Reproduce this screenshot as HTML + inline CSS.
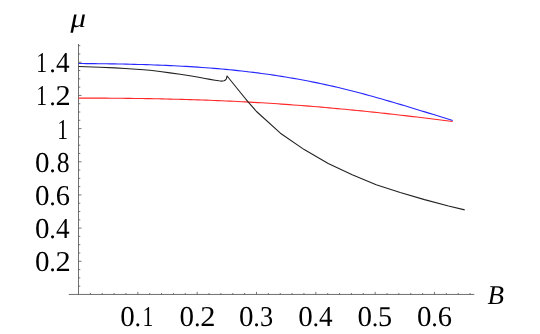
<!DOCTYPE html>
<html><head><meta charset="utf-8"><style>
html,body{margin:0;padding:0;background:#fff;}
svg{display:block;will-change:transform}
text{font-family:"Liberation Serif",serif;font-size:27px;fill:#000;text-rendering:geometricPrecision}
</style></head><body>
<svg width="540" height="334" viewBox="0 0 540 334">
<rect width="540" height="334" fill="#fff"/>
<path d="M78.5 43.9V294.45M68.8 294.45H474.3" stroke="#555" stroke-width="0.85" fill="none"/>
<path d="M78.5 286.16h1.8M78.5 277.87h1.8M78.5 269.57h1.8M78.5 261.28h3.0M78.5 252.99h1.8M78.5 244.69h1.8M78.5 236.40h1.8M78.5 228.11h3.0M78.5 219.82h1.8M78.5 211.52h1.8M78.5 203.23h1.8M78.5 194.94h3.0M78.5 186.65h1.8M78.5 178.35h1.8M78.5 170.06h1.8M78.5 161.77h3.0M78.5 153.48h1.8M78.5 145.18h1.8M78.5 136.89h1.8M78.5 128.60h3.0M78.5 120.31h1.8M78.5 112.01h1.8M78.5 103.72h1.8M78.5 95.43h3.0M78.5 87.14h1.8M78.5 78.84h1.8M78.5 70.55h1.8M78.5 62.26h3.0M78.5 53.97h1.8M78.5 45.67h1.8M90.37 294.45v-1.5M102.23 294.45v-1.5M114.10 294.45v-1.5M125.96 294.45v-1.5M137.83 294.45v-2.6M149.70 294.45v-1.5M161.56 294.45v-1.5M173.43 294.45v-1.5M185.29 294.45v-1.5M197.16 294.45v-2.6M209.03 294.45v-1.5M220.89 294.45v-1.5M232.76 294.45v-1.5M244.62 294.45v-1.5M256.49 294.45v-2.6M268.36 294.45v-1.5M280.22 294.45v-1.5M292.09 294.45v-1.5M303.95 294.45v-1.5M315.82 294.45v-2.6M327.69 294.45v-1.5M339.55 294.45v-1.5M351.42 294.45v-1.5M363.28 294.45v-1.5M375.15 294.45v-2.6M387.02 294.45v-1.5M398.88 294.45v-1.5M410.75 294.45v-1.5M422.61 294.45v-1.5M434.48 294.45v-2.6M446.35 294.45v-1.5M458.21 294.45v-1.5M470.08 294.45v-1.5" stroke="#555" stroke-width="0.8" fill="none"/>
<path d="M78.5 98.08L82.48 98.08L86.46 98.09L90.44 98.1L94.42 98.11L98.4 98.12L102.39 98.14L106.37 98.16L110.35 98.19L114.33 98.22L118.31 98.25L122.29 98.29L126.27 98.33L130.25 98.38L134.23 98.43L138.21 98.48L142.19 98.54L146.17 98.61L150.16 98.67L154.14 98.75L158.12 98.82L162.1 98.91L166.08 98.99L170.06 99.09L174.04 99.18L178.02 99.29L182.0 99.39L185.98 99.51L189.96 99.63L193.94 99.75L197.93 99.88L201.91 100.02L205.89 100.16L209.87 100.31L213.85 100.46L217.83 100.62L221.81 100.79L225.79 100.96L229.77 101.14L233.75 101.32L237.73 101.52L241.71 101.71L245.7 101.92L249.68 102.13L253.66 102.35L257.64 102.58L261.62 102.81L265.6 103.05L269.58 103.3L273.56 103.56L277.54 103.82L281.52 104.09L285.5 104.36L289.49 104.65L293.47 104.94L297.45 105.24L301.43 105.54L305.41 105.85L309.39 106.17L313.37 106.49L317.35 106.82L321.33 107.16L325.31 107.51L329.29 107.86L333.27 108.21L337.26 108.58L341.24 108.94L345.22 109.32L349.2 109.7L353.18 110.09L357.16 110.48L361.14 110.88L365.12 111.29L369.1 111.7L373.08 112.11L377.06 112.54L381.04 112.97L385.03 113.4L389.01 113.84L392.99 114.28L396.97 114.73L400.95 115.19L404.93 115.65L408.91 116.12L412.89 116.59L416.87 117.06L420.85 117.54L424.83 118.03L428.81 118.52L432.8 119.02L436.78 119.52L440.76 120.03L444.74 120.54L448.72 121.05L452.7 121.57" stroke="#ff2626" stroke-width="1.1" fill="none"/>
<path d="M78.5 63.51L82.48 63.54L86.46 63.58L90.44 63.61L94.42 63.65L98.4 63.7L102.39 63.74L106.37 63.8L110.35 63.85L114.33 63.92L118.31 63.99L122.29 64.06L126.27 64.14L130.25 64.23L134.23 64.33L138.21 64.43L142.19 64.54L146.17 64.66L150.16 64.79L154.14 64.93L158.12 65.08L162.1 65.23L166.08 65.4L170.06 65.58L174.04 65.77L178.02 65.97L182.0 66.18L185.98 66.4L189.96 66.64L193.94 66.89L197.93 67.15L201.91 67.43L205.89 67.72L209.87 68.02L213.85 68.34L217.83 68.67L221.81 69.02L225.79 69.39L229.77 69.77L233.75 70.17L237.73 70.58L241.71 71.01L245.7 71.46L249.68 71.93L253.66 72.42L257.64 72.92L261.62 73.44L265.6 73.99L269.58 74.55L273.56 75.13L277.54 75.74L281.52 76.36L285.5 77.0L289.49 77.67L293.47 78.35L297.45 79.06L301.43 79.79L305.41 80.53L309.39 81.3L313.37 82.09L317.35 82.91L321.33 83.74L325.31 84.6L329.29 85.48L333.27 86.38L337.26 87.3L341.24 88.25L345.22 89.22L349.2 90.21L353.18 91.22L357.16 92.25L361.14 93.3L365.12 94.37L369.1 95.45L373.08 96.56L377.06 97.67L381.04 98.8L385.03 99.94L389.01 101.1L392.99 102.26L396.97 103.44L400.95 104.63L404.93 105.82L408.91 107.02L412.89 108.23L416.87 109.45L420.85 110.67L424.83 111.89L428.81 113.12L432.8 114.34L436.78 115.57L440.76 116.8L444.74 118.03L448.72 119.26L452.7 120.48" stroke="#2626ff" stroke-width="1.1" fill="none"/>
<path d="M78.5 66.5L100 67.3L115 67.9L125 68.5L140 69.5L150 70.2L160 71.5L170 72.9L180 74.3L190 75.7L200 77.5L205 78.5L210 79.4L215 80.2L219 80.8L221.5 81.1L224 80.8L225.4 80.1L226.3 79.0L227.1 76.0L240.0 92.0L248.3 102.2L256.5 111.5L280.4 133.2L304.2 149.6L328.2 163.4L352.2 174.8L376.2 184.8L400.2 192.5L424.5 199.6L448.5 206.0L464.7 209.9" stroke="#222" stroke-width="1.1" fill="none" stroke-linejoin="round"/>
<defs><filter id="g" x="0" y="0" width="540" height="334" filterUnits="userSpaceOnUse"><feOffset dx="0" dy="0"/></filter></defs>
<g filter="url(#g)"><text transform="translate(35.06,271.18) scale(1.0762,1.0667)">0</text><text transform="translate(49.32,271.18) scale(0.9755,0.9755)">.</text><text transform="translate(55.60,271.18) scale(1.1276,1.0667)">2</text>
<text transform="translate(35.06,238.01) scale(1.0762,1.0667)">0</text><text transform="translate(49.32,238.01) scale(0.9755,0.9755)">.</text><text transform="translate(55.89,238.01) scale(1.0080,1.0667)">4</text>
<text transform="translate(35.06,204.84) scale(1.0762,1.0667)">0</text><text transform="translate(49.32,204.84) scale(0.9755,0.9755)">.</text><text transform="translate(55.83,204.84) scale(1.0540,1.0667)">6</text>
<text transform="translate(35.06,171.67) scale(1.0762,1.0667)">0</text><text transform="translate(49.32,171.67) scale(0.9755,0.9755)">.</text><text transform="translate(56.69,171.67) scale(0.9514,1.0667)">8</text>
<text transform="translate(57.31,138.50) scale(0.7984,1.0667)">1</text>
<text transform="translate(36.31,105.33) scale(0.7984,1.0667)">1</text><text transform="translate(49.32,105.33) scale(0.9755,0.9755)">.</text><text transform="translate(55.60,105.33) scale(1.1276,1.0667)">2</text>
<text transform="translate(36.31,72.16) scale(0.7984,1.0667)">1</text><text transform="translate(49.32,72.16) scale(0.9755,0.9755)">.</text><text transform="translate(55.89,72.16) scale(1.0080,1.0667)">4</text>
<text transform="translate(120.29,326.15) scale(1.0762,1.0667)">0</text><text transform="translate(134.55,326.15) scale(0.9755,0.9755)">.</text><text transform="translate(142.54,326.15) scale(0.7984,1.0667)">1</text>
<text transform="translate(179.62,326.15) scale(1.0762,1.0667)">0</text><text transform="translate(193.88,326.15) scale(0.9755,0.9755)">.</text><text transform="translate(200.16,326.15) scale(1.1276,1.0667)">2</text>
<text transform="translate(238.95,326.15) scale(1.0762,1.0667)">0</text><text transform="translate(253.21,326.15) scale(0.9755,0.9755)">.</text><text transform="translate(259.93,326.15) scale(0.9743,1.0667)">3</text>
<text transform="translate(298.28,326.15) scale(1.0762,1.0667)">0</text><text transform="translate(312.54,326.15) scale(0.9755,0.9755)">.</text><text transform="translate(319.11,326.15) scale(1.0080,1.0667)">4</text>
<text transform="translate(357.61,326.15) scale(1.0762,1.0667)">0</text><text transform="translate(371.87,326.15) scale(0.9755,0.9755)">.</text><text transform="translate(377.91,326.15) scale(1.0448,1.0667)">5</text>
<text transform="translate(416.94,326.15) scale(1.0762,1.0667)">0</text><text transform="translate(431.20,326.15) scale(0.9755,0.9755)">.</text><text transform="translate(437.71,326.15) scale(1.0540,1.0667)">6</text>
<text transform="translate(70.4,26.5) scale(1.145,1)" font-style="italic" font-size="29">μ</text>
<text x="487.4" y="303.9" font-style="italic">B</text></g>
</svg>
</body></html>
